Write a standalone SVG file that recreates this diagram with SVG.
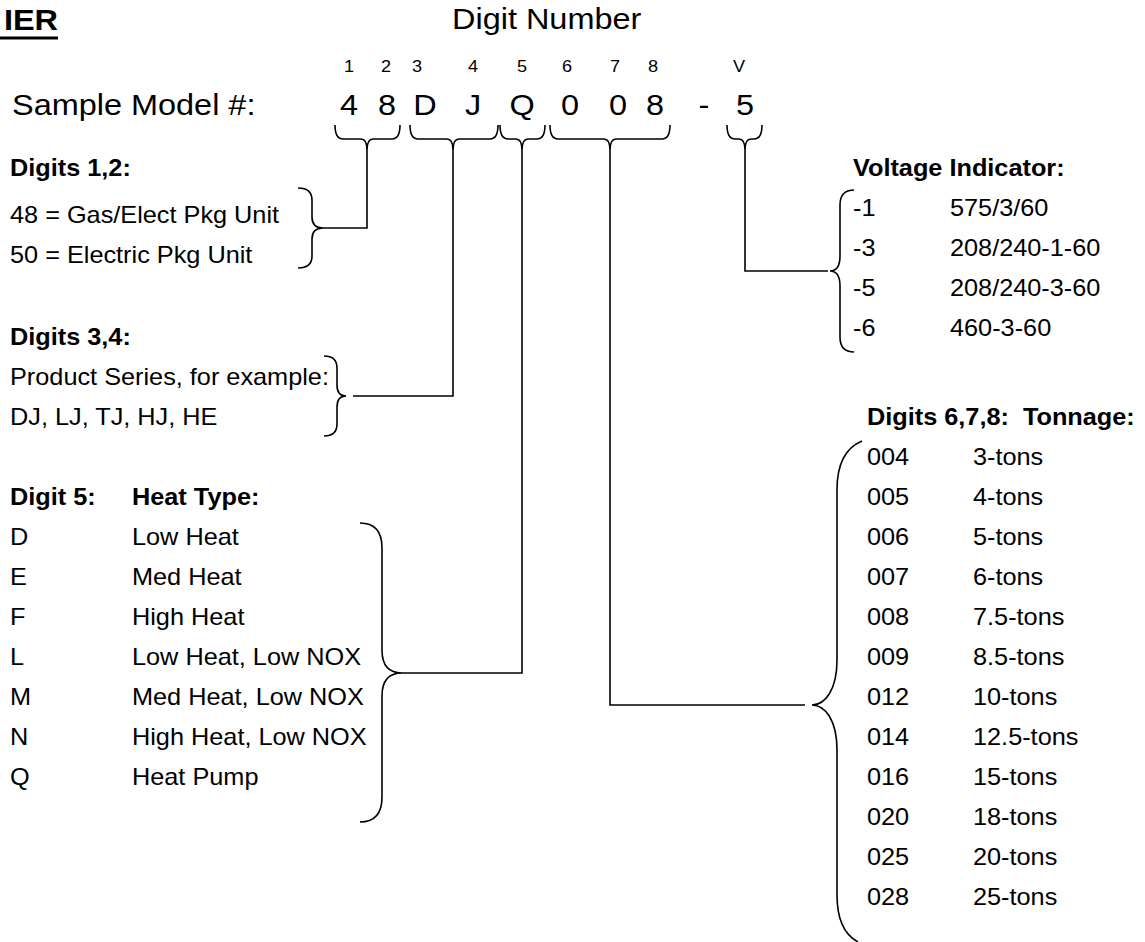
<svg xmlns="http://www.w3.org/2000/svg" width="1145" height="942" viewBox="0 0 1145 942">
<style>
text{font-family:"Liberation Sans",Arial,sans-serif;fill:#000}
.b{font-weight:bold}
.s{font-size:23px}
.lg{font-size:29.5px}
.sm{font-size:16.5px}
.m{text-anchor:middle}
.ln{fill:none;stroke:#000;stroke-width:1.6}
</style>
<rect width="1145" height="942" fill="#fff"/>
<g id="title">
<text class="lg b" text-anchor="end" transform="translate(58,30) scale(1.1,1)">IER</text>
<rect x="0" y="36.5" width="58" height="3" fill="#000"/>
<text class="lg" transform="translate(452,29) scale(1.1,1)">Digit Number</text>
</g>
<g id="model">
<text class="lg" transform="translate(12,115) scale(1.1,1)">Sample Model #:</text>
<g class="sm m">
<text transform="translate(349,72) scale(1.1,1)">1</text>
<text transform="translate(386,72) scale(1.1,1)">2</text>
<text transform="translate(417,72) scale(1.1,1)">3</text>
<text transform="translate(473,72) scale(1.1,1)">4</text>
<text transform="translate(522,72) scale(1.1,1)">5</text>
<text transform="translate(567,72) scale(1.1,1)">6</text>
<text transform="translate(615,72) scale(1.1,1)">7</text>
<text transform="translate(653,72) scale(1.1,1)">8</text>
<text transform="translate(739,72) scale(1.1,1)">V</text>
</g>
<g class="lg m">
<text transform="translate(349,115) scale(1.1,1)">4</text>
<text transform="translate(387,115) scale(1.1,1)">8</text>
<text transform="translate(425,115) scale(1.1,1)">D</text>
<text transform="translate(473,115) scale(1.1,1)">J</text>
<text transform="translate(522,115) scale(1.1,1)">Q</text>
<text transform="translate(570,115) scale(1.1,1)">0</text>
<text transform="translate(618,115) scale(1.1,1)">0</text>
<text transform="translate(655,115) scale(1.1,1)">8</text>
<text transform="translate(704,115) scale(1.1,1)">-</text>
<text transform="translate(745,115) scale(1.1,1)">5</text>
</g>
<path class="ln" d="M335,125 Q335,139 343,139 L361,139 Q367,139 367,150 Q367,139 373,139 L392,139 Q400,139 400,125"/>
<path class="ln" d="M410,125 Q410,139 418,139 L447,139 Q453,139 453,150 Q453,139 459,139 L490,139 Q498,139 498,125"/>
<path class="ln" d="M500,125 Q500,139 508,139 L516,139 Q522,139 522,150 Q522,139 528,139 L537,139 Q545,139 545,125"/>
<path class="ln" d="M550,125 Q550,139 558,139 L604,139 Q610,139 610,150 Q610,139 616,139 L662,139 Q670,139 670,125"/>
<path class="ln" d="M727,125 Q727,139 735,139 L739,139 Q745,139 745,150 Q745,139 751,139 L754,139 Q762,139 762,125"/>
</g>
<g id="connectors" class="ln">
<path d="M367,150 V228 H323"/>
<path d="M453,150 V396 H353"/>
<path d="M522,150 V673 H402"/>
<path d="M610,150 V705 H805"/>
<path d="M745,150 V271 H828"/>
</g>
<g id="digits12">
<text class="s b" transform="translate(10,176) scale(1.1,1)">Digits 1,2:</text>
<text class="s" transform="translate(10,223) scale(1.1,1)">48 = Gas/Elect Pkg Unit</text>
<text class="s" transform="translate(10,263) scale(1.1,1)">50 = Electric Pkg Unit</text>
<path class="ln" d="M298,188 Q312,188 312,200 V217 Q312,228 323,228 Q312,228 312,239 V256 Q312,268 298,268"/>
</g>
<g id="digits34">
<text class="s b" transform="translate(10,345) scale(1.1,1)">Digits 3,4:</text>
<text class="s" transform="translate(10,385) scale(1.1,1)">Product Series, for example:</text>
<text class="s" transform="translate(10,425) scale(1.1,1)">DJ, LJ, TJ, HJ, HE</text>
<path class="ln" d="M324,356 Q337,356 337,368 V385 Q337,396 346,396 Q337,396 337,407 V424 Q337,436 324,436"/>
</g>
<g id="digit5">
<text class="s b" transform="translate(10,505) scale(1.1,1)">Digit 5:</text>
<text class="s b" transform="translate(132,505) scale(1.1,1)">Heat Type:</text>
<g class="s">
<text transform="translate(10,545) scale(1.1,1)">D</text><text transform="translate(132,545) scale(1.1,1)">Low Heat</text>
<text transform="translate(10,585) scale(1.1,1)">E</text><text transform="translate(132,585) scale(1.1,1)">Med Heat</text>
<text transform="translate(10,625) scale(1.1,1)">F</text><text transform="translate(132,625) scale(1.1,1)">High Heat</text>
<text transform="translate(10,665) scale(1.1,1)">L</text><text transform="translate(132,665) scale(1.1,1)">Low Heat, Low NOX</text>
<text transform="translate(10,705) scale(1.1,1)">M</text><text transform="translate(132,705) scale(1.1,1)">Med Heat, Low NOX</text>
<text transform="translate(10,745) scale(1.1,1)">N</text><text transform="translate(132,745) scale(1.1,1)">High Heat, Low NOX</text>
<text transform="translate(10,785) scale(1.1,1)">Q</text><text transform="translate(132,785) scale(1.1,1)">Heat Pump</text>
</g>
<path class="ln" d="M360,523 Q382,523 382,548 V650 Q382,673 402,673 Q382,673 382,696 V797 Q382,822 360,822"/>
</g>
<g id="voltage">
<text class="s b" transform="translate(853,176) scale(1.1,1)">Voltage Indicator:</text>
<g class="s">
<text transform="translate(853,216) scale(1.1,1)">-1</text><text transform="translate(950,216) scale(1.1,1)">575/3/60</text>
<text transform="translate(853,256) scale(1.1,1)">-3</text><text transform="translate(950,256) scale(1.1,1)">208/240-1-60</text>
<text transform="translate(853,296) scale(1.1,1)">-5</text><text transform="translate(950,296) scale(1.1,1)">208/240-3-60</text>
<text transform="translate(853,336) scale(1.1,1)">-6</text><text transform="translate(950,336) scale(1.1,1)">460-3-60</text>
</g>
<path class="ln" d="M854,190 Q840,190 840,205 V256 Q840,271 830,271 Q840,271 840,286 V337 Q840,352 854,352"/>
</g>
<g id="tonnage">
<text class="s b" xml:space="preserve" transform="translate(867,425) scale(1.1,1)">Digits 6,7,8:  Tonnage:</text>
<g class="s">
<text transform="translate(867,465) scale(1.1,1)">004</text><text transform="translate(973,465) scale(1.1,1)">3-tons</text>
<text transform="translate(867,505) scale(1.1,1)">005</text><text transform="translate(973,505) scale(1.1,1)">4-tons</text>
<text transform="translate(867,545) scale(1.1,1)">006</text><text transform="translate(973,545) scale(1.1,1)">5-tons</text>
<text transform="translate(867,585) scale(1.1,1)">007</text><text transform="translate(973,585) scale(1.1,1)">6-tons</text>
<text transform="translate(867,625) scale(1.1,1)">008</text><text transform="translate(973,625) scale(1.1,1)">7.5-tons</text>
<text transform="translate(867,665) scale(1.1,1)">009</text><text transform="translate(973,665) scale(1.1,1)">8.5-tons</text>
<text transform="translate(867,705) scale(1.1,1)">012</text><text transform="translate(973,705) scale(1.1,1)">10-tons</text>
<text transform="translate(867,745) scale(1.1,1)">014</text><text transform="translate(973,745) scale(1.1,1)">12.5-tons</text>
<text transform="translate(867,785) scale(1.1,1)">016</text><text transform="translate(973,785) scale(1.1,1)">15-tons</text>
<text transform="translate(867,825) scale(1.1,1)">020</text><text transform="translate(973,825) scale(1.1,1)">18-tons</text>
<text transform="translate(867,865) scale(1.1,1)">025</text><text transform="translate(973,865) scale(1.1,1)">20-tons</text>
<text transform="translate(867,905) scale(1.1,1)">028</text><text transform="translate(973,905) scale(1.1,1)">25-tons</text>
</g>
<path class="ln" d="M862,441 C845,448 837,465 837,490 V660 C837,690 825,705 812,705 C825,705 837,720 837,750 V895 C837,920 845,935 858,942"/>
</g>
</svg>
